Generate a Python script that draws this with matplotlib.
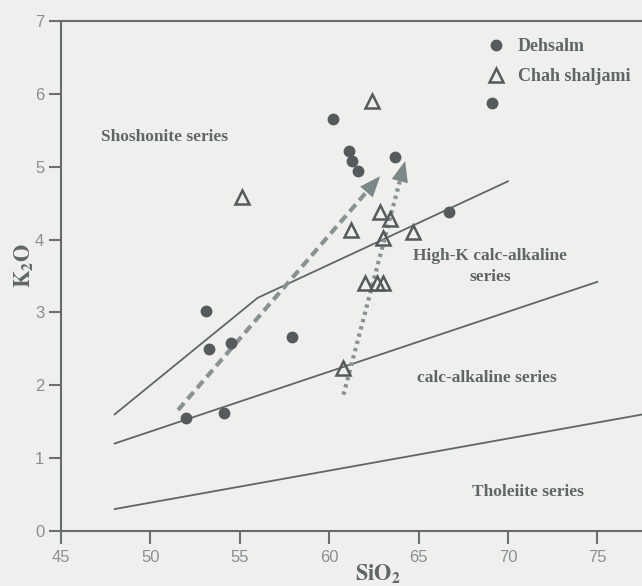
import matplotlib
matplotlib.use('Agg')
from matplotlib import pyplot as plt
from matplotlib.lines import Line2D

# Dehsalm samples (filled circles)
dehsalm_sio2 = [52.0, 53.1, 53.3, 54.5, 54.1, 57.9, 60.2, 61.1, 61.3, 61.6, 63.7, 66.7, 69.1]
dehsalm_k2o = [1.55, 3.02, 2.50, 2.58, 1.62, 2.66, 5.65, 5.21, 5.08, 4.94, 5.13, 4.38, 5.87]

# Chah shaljami samples (open triangles)
chah_sio2 = [55.1, 62.4, 62.85, 63.4, 61.2, 64.7, 63.0, 62.0, 62.7, 63.0, 60.8]
chah_k2o = [4.58, 5.90, 4.38, 4.28, 4.13, 4.10, 4.02, 3.40, 3.40, 3.40, 2.24]

# series boundaries
shosh_x, shosh_y = [48, 56, 70], [1.6, 3.2, 4.8]
highk_x, highk_y = [48, 75], [1.2, 3.42]
calc_x, calc_y = [48, 78], [0.3, 1.62]

# trend arrows (start, end)
dehsalm_trend = [(51.55, 1.66), (62.85, 4.87)]
chah_trend = [(60.8, 1.87), (64.25, 5.08)]

bg = '#efefee'
dark = '#5e6666'
tickc = '#8a8f90'
arrowc = '#889292'

plt.rcParams['mathtext.fontset'] = 'stix'
serif = 'Liberation Serif'

fig = plt.figure(figsize=(6.42, 5.86), dpi=100, facecolor=bg)
ax = fig.add_axes([0.095, 0.094, 0.905, 0.870], facecolor=bg)

for xs, ys in [(shosh_x, shosh_y), (highk_x, highk_y), (calc_x, calc_y)]:
    ax.plot(xs, ys, color=dark, lw=1.3, zorder=2)


def trend_arrow(pts, dashes):
    (x0, y0), (x1, y1) = pts
    # shaft stops a little short of the tip so the head stays sharp
    xe, ye = x0 + 0.93 * (x1 - x0), y0 + 0.93 * (y1 - y0)
    ax.plot([x0, xe], [y0, ye], color=arrowc, lw=3, dashes=dashes, zorder=3)
    ax.annotate('', xy=(x1, y1), xytext=(x0, y0),
                arrowprops=dict(arrowstyle='-|>,head_length=1.5,head_width=0.6',
                                mutation_scale=10, color='#7c8888', lw=0,
                                shrinkA=0, shrinkB=0),
                zorder=3)


trend_arrow(dehsalm_trend, (2.2, 1.3))
trend_arrow(chah_trend, (0.8, 1.0))

ax.plot(dehsalm_sio2, dehsalm_k2o, 'o', color='#555b5c', ms=7.5, mec='#555b5c', zorder=4)
ax.plot(chah_sio2, chah_k2o, '^', mfc='none', mec='#555b5c', mew=1.8, ms=10, zorder=4)

txt = dict(family=serif, fontweight='bold', color=dark, fontsize=12.5)
ax.text(50.8, 5.41, 'Shoshonite series', ha='center', va='center', **txt)
ax.text(69.0, 3.63, 'High-K calc-alkaline\nseries', ha='center', va='center',
        linespacing=1.45, **txt)
ax.text(68.8, 2.10, 'calc-alkaline series', ha='center', va='center', **txt)
ax.text(71.1, 0.53, 'Tholeiite series', ha='center', va='center', **txt)

handles = [Line2D([], [], ls='none', marker='o', color='#555b5c', ms=7.5),
           Line2D([], [], ls='none', marker='^', mfc='none', mec='#555b5c', mew=1.8, ms=10)]
ax.legend(handles, ['Dehsalm', 'Chah shaljami'], loc='upper left',
          bbox_to_anchor=(0.706, 0.999), frameon=False, handlelength=1.0,
          handletextpad=0.7, labelspacing=0.75,
          prop=dict(family=serif, weight='bold', size=13), labelcolor=dark)

ax.set_xlim(45, 77.5)
ax.set_ylim(0, 7)
ax.set_xticks([45, 50, 55, 60, 65, 70, 75])
ax.set_yticks(range(8))
ax.tick_params(direction='out', length=9, width=1.5, color='#6a7070',
               labelsize=12, labelcolor=tickc, pad=3)
ax.tick_params(axis='x', pad=5)
for lab in ax.get_xticklabels() + ax.get_yticklabels():
    lab.set_family('Liberation Sans')
ax.spines['right'].set_visible(False)
for s in ['left', 'bottom', 'top']:
    ax.spines[s].set_color('#666c6c')
    ax.spines[s].set_linewidth(1.5)

ax.set_xlabel(r'$\mathbf{SiO_2}$', fontsize=16, color=dark)
ax.set_ylabel(r'$\mathbf{K_2O}$', fontsize=16, color=dark)
ax.xaxis.set_label_coords(0.546, -0.062)
ax.yaxis.set_label_coords(-0.043, 0.52)

fig.savefig('out.png', dpi=100, facecolor=bg)
